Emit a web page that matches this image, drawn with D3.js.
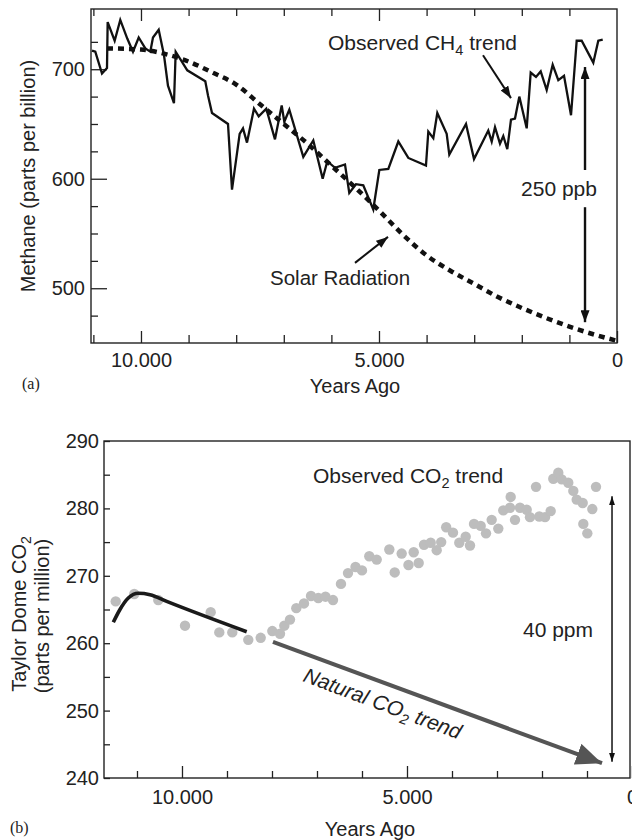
<!DOCTYPE html>
<html>
<head>
<meta charset="utf-8">
<script src="https://cdnjs.cloudflare.com/ajax/libs/d3/7.8.5/d3.min.js"></script>
<style>
	body { margin: 0; background: #fff; }
	svg text { font-family: "Liberation Sans", Arial, Helvetica, sans-serif; fill: #222; }
	.panel-tag { font-family: "Liberation Serif", "Times New Roman", serif; }
</style>
</head>
<body>
<svg id="chart" width="632" height="840"></svg>
<script>
// (a) METHANE - OBSERVED TREND
var methaneYears = [11029, 10960, 10819, 10714, 10700, 10553, 10435, 10288, 10168, 10048,
	9909, 9804, 9748, 9628, 9517, 9433, 9307, 9271, 9027, 8649,
	8592, 8508, 8172, 8088, 7927, 7857, 7773, 7626, 7527, 7368,
	7185, 7044, 6989, 6884, 6590, 6380, 6183, 6086, 5924, 5714,
	5624, 5483, 5330, 5120, 4993, 4804, 4594, 4384, 4013, 3964,
	3859, 3775, 3578, 3523, 3172, 3004, 2704, 2632, 2563, 2458,
	2389, 2305, 2227, 2143, 2052, 1897, 1813, 1702, 1603, 1477,
	1351, 1233, 1113, 966, 847, 742, 498, 393, 300];
var methaneValues = [717, 716, 696, 701, 743, 726, 745, 728, 716, 729,
	719, 716, 729, 736, 713, 685, 669, 716, 699, 689,
	676, 660, 650, 590, 641, 646, 633, 664, 657, 664,
	636, 667, 652, 663, 620, 635, 600, 616, 610, 613,
	587, 595, 594, 572, 608, 609, 634, 619, 612, 643,
	637, 660, 641, 622, 650, 618, 644, 634, 647, 632,
	639, 627, 654, 655, 675, 646, 697, 693, 698, 681,
	704, 690, 694, 658, 726, 726, 706, 726, 727];

// (a) SOLAR RADIATION (EXPECTED METHANE)
var solarYears = [10714, 10000, 9500, 9000, 8500, 8000, 7500, 7000, 6500, 6000, 5500,
	5000, 4500, 4000, 3500, 3000, 2500, 2000, 1500, 1000, 500, 0];
var solarValues = [719, 718, 714, 707, 697, 686, 668, 650, 632, 612, 592,
	571, 549, 530, 516, 504, 492, 482, 473, 465, 458, 452];

// (b) TAYLOR DOME CO2 SAMPLES
var co2Years = [11473, 11060, 10527, 9933, 9362, 9171, 8882, 8527, 8251, 7993,
	7822, 7726, 7600, 7460, 7289, 7133, 6971, 6811, 6644, 6467,
	6311, 6144, 6000, 5838, 5673, 5393, 5273, 5118, 4967, 4851,
	4740, 4622, 4473, 4340, 4240, 4129, 3978, 3838, 3696, 3600,
	3511, 3362, 3244, 3118, 2971, 2860, 2696, 2711, 2600, 2489,
	2340, 2267, 2133, 2060, 1933, 1807, 1749, 1638, 1562, 1416,
	1304, 1229, 1096, 1082, 993, 882, 800];
var co2Values = [266.2, 267.3, 266.4, 262.6, 264.6, 261.6, 261.6, 260.5, 260.8, 261.8,
	261.4, 262.6, 263.5, 265.2, 265.9, 267.0, 266.7, 266.9, 266.4, 268.8,
	270.4, 271.3, 270.8, 272.9, 272.4, 273.9, 270.5, 273.3, 271.6, 273.5,
	271.9, 274.6, 274.9, 273.8, 275.0, 277.2, 276.4, 274.9, 275.8, 274.5,
	277.7, 277.4, 276.3, 278.3, 277.0, 279.7, 281.7, 280.1, 278.3, 280.1,
	279.8, 278.7, 283.2, 278.8, 278.7, 279.6, 284.4, 285.3, 284.3, 283.8,
	282.6, 281.3, 280.8, 277.7, 276.3, 279.9, 283.2];

// (b) EARLY HOLOCENE FIT & NATURAL TREND ARROW
var fitYears = [11526, 11378, 11193, 10971, 10711, 10340, 8562];
var fitValues = [263.1, 265.0, 266.7, 267.4, 267.2, 266.2, 261.7];
var naturalYears = [7978, 667];
var naturalValues = [260.2, 242.2];

// ANNOTATION SPANS [year, top, bottom]
var ch4Span = [672, 702, 469];
var co2Span = [444, 281.8, 242.4];
var ch4Pointer = [[2815, 712.8], [2227, 673.6]];
var solarPointer = [[5504, 523.2], [4811, 546.9]];

// TICKS
var xMajorTicks = [10000, 5000, 0];
var xTickLabels = ["10.000", "5.000", "0"];
var xMinorTicksA = [11000, 9000, 8000, 7000, 6000, 4000, 3000, 2000, 1000];
var xMinorTicksB = [11000, 9000, 8000, 7000, 6000, 4000, 3000, 2000, 1000];
var yMajorTicksA = [500, 600, 700];
var yMinorTicksA = [475, 525, 550, 575, 625, 650, 675, 725];
var yMajorTicksB = [240, 250, 260, 270, 280, 290];
var yMinorTicksB = [245, 255, 265, 275, 285];

var svg = d3.select("#chart");
var defs = svg.append("defs");

function addMarker(id, len, wid, color) {
	defs
		.append("marker")
		.attr("id", id)
		.attr("viewBox", "0 0 " + len + " " + wid)
		.attr("refX", len)
		.attr("refY", wid / 2)
		.attr("markerWidth", len)
		.attr("markerHeight", wid)
		.attr("markerUnits", "userSpaceOnUse")
		.attr("orient", "auto-start-reverse")
		.append("path")
		.attr("d", "M0,0L" + len + "," + wid / 2 + "L0," + wid + "Z")
		.attr("fill", color);
}
addMarker("head-black", 12, 9, "#111");
addMarker("head-thin", 9, 6, "#111");
addMarker("head-gray", 26, 22, "#555");

function styleAxis(g) {
	g.select(".domain").remove();
	g.attr("font-size", 20)
		.attr("font-family", '"Liberation Sans", Arial, sans-serif')
		.attr("color", "#222");
	g.selectAll(".tick line").attr("stroke-width", 1.3);
}

function fmtX(d, i) {
	return xTickLabels[i];
}

// ======================= PANEL (a) =======================
var xa = d3.scaleLinear().domain([11050, 0]).range([91, 617]);
var ya = d3.scaleLinear().domain([450, 755]).range([343, 9]);

svg.append("g").attr("transform", "translate(0,343)")
	.call(d3.axisBottom(xa).tickValues(xMajorTicks).tickSize(-12).tickPadding(10).tickFormat(fmtX))
	.call(styleAxis);
svg.append("g").attr("transform", "translate(0,343)")
	.call(d3.axisBottom(xa).tickValues(xMinorTicksA).tickSize(-8).tickFormat(""))
	.call(styleAxis);
svg.append("g").attr("transform", "translate(0,9)")
	.call(d3.axisTop(xa).tickValues([10000, 5000]).tickSize(-12).tickFormat(""))
	.call(styleAxis);
svg.append("g").attr("transform", "translate(0,9)")
	.call(d3.axisTop(xa).tickValues(xMinorTicksA).tickSize(-7).tickFormat(""))
	.call(styleAxis);
svg.append("g").attr("transform", "translate(91,0)")
	.call(d3.axisLeft(ya).tickValues(yMajorTicksA).tickSize(-16).tickPadding(6))
	.call(styleAxis);
svg.append("g").attr("transform", "translate(91,0)")
	.call(d3.axisLeft(ya).tickValues(yMinorTicksA).tickSize(-7).tickFormat(""))
	.call(styleAxis);

svg.append("rect")
	.attr("x", xa(11050)).attr("y", ya(755))
	.attr("width", xa(0) - xa(11050)).attr("height", ya(450) - ya(755))
	.attr("fill", "none").attr("stroke", "#222").attr("stroke-width", 1.4);

// SOLAR RADIATION (DOTTED)
var solarData = solarYears.map(function (d, i) { return { x: d, y: solarValues[i] }; });
svg.append("path")
	.datum(solarData)
	.attr("fill", "none")
	.attr("stroke", "#111")
	.attr("stroke-width", 4.5)
	.attr("stroke-dasharray", "6,5")
	.attr("d", d3.line().curve(d3.curveMonotoneX)
		.x(function (d) { return xa(d.x); })
		.y(function (d) { return ya(d.y); }));

// OBSERVED CH4
var methaneData = methaneYears.map(function (d, i) { return { x: d, y: methaneValues[i] }; });
svg.append("path")
	.datum(methaneData)
	.attr("fill", "none")
	.attr("stroke", "#111")
	.attr("stroke-width", 2.3)
	.attr("stroke-linejoin", "miter")
	.attr("d", d3.line()
		.x(function (d) { return xa(d.x); })
		.y(function (d) { return ya(d.y); }));

// ANNOTATIONS (a)
svg.append("line")
	.attr("x1", xa(ch4Pointer[0][0])).attr("y1", ya(ch4Pointer[0][1]))
	.attr("x2", xa(ch4Pointer[1][0])).attr("y2", ya(ch4Pointer[1][1]))
	.attr("stroke", "#111").attr("stroke-width", 2)
	.attr("marker-end", "url(#head-black)");
svg.append("line")
	.attr("x1", xa(solarPointer[0][0])).attr("y1", ya(solarPointer[0][1]))
	.attr("x2", xa(solarPointer[1][0])).attr("y2", ya(solarPointer[1][1]))
	.attr("stroke", "#111").attr("stroke-width", 2)
	.attr("marker-end", "url(#head-black)");

// 250 PPB SPAN
svg.append("line")
	.attr("x1", xa(ch4Span[0])).attr("y1", ya(608))
	.attr("x2", xa(ch4Span[0])).attr("y2", ya(ch4Span[1]))
	.attr("stroke", "#111").attr("stroke-width", 2.4)
	.attr("marker-end", "url(#head-black)");
svg.append("line")
	.attr("x1", xa(ch4Span[0])).attr("y1", ya(574))
	.attr("x2", xa(ch4Span[0])).attr("y2", ya(ch4Span[2]))
	.attr("stroke", "#111").attr("stroke-width", 2.4)
	.attr("marker-end", "url(#head-black)");

var t1 = svg.append("text").attr("x", 328).attr("y", 50).attr("font-size", 21);
t1.append("tspan").text("Observed CH");
t1.append("tspan").attr("font-size", 14.5).attr("dy", 5).text("4");
t1.append("tspan").attr("dy", -5).text(" trend");

svg.append("text").attr("x", 270).attr("y", 285).attr("font-size", 20.5).text("Solar Radiation");
svg.append("text").attr("x", 559).attr("y", 196).attr("font-size", 21)
	.attr("text-anchor", "middle").text("250 ppb");
svg.append("text").attr("x", 355).attr("y", 393).attr("font-size", 20)
	.attr("text-anchor", "middle").text("Years Ago");
svg.append("text").attr("class", "panel-tag").attr("x", 22).attr("y", 389)
	.attr("font-size", 16).text("(a)");
svg.append("text")
	.attr("transform", "translate(35,176) rotate(-90)")
	.attr("text-anchor", "middle").attr("font-size", 20)
	.text("Methane (parts per billion)");

// ======================= PANEL (b) =======================
var xb = d3.scaleLinear().domain([11733, 0]).range([104, 632]);
var yb = d3.scaleLinear().domain([240, 290]).range([778, 441]);

svg.append("g").attr("transform", "translate(0,778)")
	.call(d3.axisBottom(xb).tickValues(xMajorTicks).tickSize(-12).tickPadding(12).tickFormat(fmtX))
	.call(styleAxis);
svg.append("g").attr("transform", "translate(0,778)")
	.call(d3.axisBottom(xb).tickValues(xMinorTicksB).tickSize(-7).tickFormat(""))
	.call(styleAxis);
svg.append("g").attr("transform", "translate(104,0)")
	.call(d3.axisLeft(yb).tickValues(yMajorTicksB).tickSize(-6).tickPadding(5))
	.call(styleAxis);
svg.append("g").attr("transform", "translate(104,0)")
	.call(d3.axisLeft(yb).tickValues(yMinorTicksB).tickSize(-6).tickFormat(""))
	.call(styleAxis);

svg.append("rect")
	.attr("x", 104).attr("y", yb(290))
	.attr("width", 526).attr("height", yb(240) - yb(290))
	.attr("fill", "none").attr("stroke", "#222").attr("stroke-width", 1.4);

// CO2 POINTS
svg.selectAll(".co2-dot")
	.data(co2Years)
	.join("circle")
	.attr("class", "co2-dot")
	.attr("cx", function (d) { return xb(d); })
	.attr("cy", function (d, i) { return yb(co2Values[i]); })
	.attr("r", 5.2)
	.attr("fill", "#bdbdbd");

// EARLY HOLOCENE FIT
var fitData = fitYears.map(function (d, i) { return { x: d, y: fitValues[i] }; });
svg.append("path")
	.datum(fitData)
	.attr("fill", "none")
	.attr("stroke", "#1a1a1a")
	.attr("stroke-width", 3.6)
	.attr("d", d3.line().curve(d3.curveMonotoneX)
		.x(function (d) { return xb(d.x); })
		.y(function (d) { return yb(d.y); }));

// NATURAL CO2 TREND ARROW
svg.append("line")
	.attr("x1", xb(naturalYears[0])).attr("y1", yb(naturalValues[0]))
	.attr("x2", xb(naturalYears[1])).attr("y2", yb(naturalValues[1]))
	.attr("stroke", "#555").attr("stroke-width", 4)
	.attr("marker-end", "url(#head-gray)");

// 40 PPM SPAN
svg.append("line")
	.attr("x1", xb(co2Span[0])).attr("y1", yb(co2Span[1]))
	.attr("x2", xb(co2Span[0])).attr("y2", yb(co2Span[2]))
	.attr("stroke", "#111").attr("stroke-width", 1.5)
	.attr("marker-start", "url(#head-thin)")
	.attr("marker-end", "url(#head-thin)");

var t2 = svg.append("text").attr("x", 313).attr("y", 483).attr("font-size", 21);
t2.append("tspan").text("Observed CO");
t2.append("tspan").attr("font-size", 14.5).attr("dy", 5).text("2");
t2.append("tspan").attr("dy", -5).text(" trend");

var t3 = svg.append("text")
	.attr("transform", "translate(302,681) rotate(20.5)")
	.attr("font-size", 21).attr("font-style", "italic");
t3.append("tspan").text("Natural CO");
t3.append("tspan").attr("font-size", 14.5).attr("dy", 5).text("2");
t3.append("tspan").attr("dy", -5).text(" trend");

svg.append("text").attr("x", 523).attr("y", 637).attr("font-size", 21).text("40 ppm");
svg.append("text").attr("x", 370).attr("y", 836).attr("font-size", 20)
	.attr("text-anchor", "middle").text("Years Ago");
svg.append("text").attr("class", "panel-tag").attr("x", 10).attr("y", 833)
	.attr("font-size", 16).text("(b)");

var t4 = svg.append("text")
	.attr("transform", "translate(26,614) rotate(-90)")
	.attr("text-anchor", "middle").attr("font-size", 20);
t4.append("tspan").text("Taylor Dome CO");
t4.append("tspan").attr("font-size", 14).attr("dy", 5).text("2");
svg.append("text")
	.attr("transform", "translate(49,616) rotate(-90)")
	.attr("text-anchor", "middle").attr("font-size", 20)
	.text("(parts per million)");
</script>
</body>
</html>
